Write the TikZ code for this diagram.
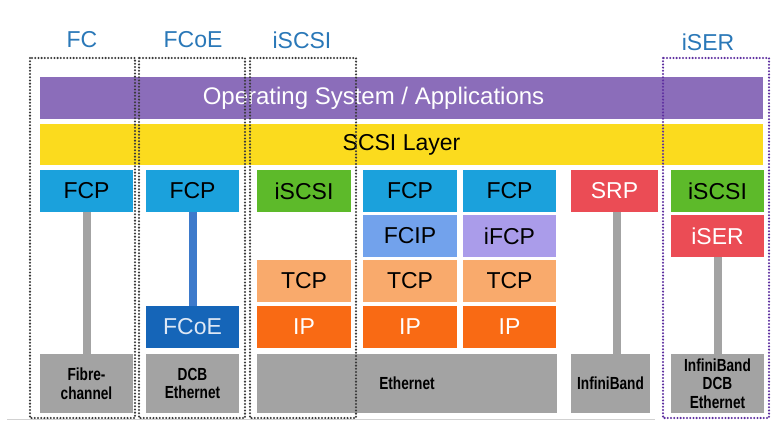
\documentclass[tikz,border=0pt]{standalone}
\usepackage{fontspec}
\setmainfont{Liberation Sans}
\newfontfamily\narrowfont[FakeStretch=0.78]{Liberation Sans}
\definecolor{osPurple}{HTML}{8B6DBA}
\definecolor{scsiYellow}{HTML}{FBDB1E}
\definecolor{fcpBlue}{HTML}{1BA1DC}
\definecolor{iscsiGreen}{HTML}{5DBA2A}
\definecolor{fcipBlue}{HTML}{72A2EC}
\definecolor{ifcpLav}{HTML}{AA9CEA}
\definecolor{tcpOrange}{HTML}{F9AA6C}
\definecolor{ipOrange}{HTML}{F96A14}
\definecolor{srpRed}{HTML}{EB4C55}
\definecolor{fcoeBlue}{HTML}{1565B8}
\definecolor{linkGray}{HTML}{A3A3A3}
\definecolor{linkBlue}{HTML}{3D7ACB}
\definecolor{labelBlue}{HTML}{2A78B8}
\definecolor{dotGray}{HTML}{3A3A3A}
\definecolor{dotPurple}{HTML}{5E2FA0}
\tikzset{
  blk/.style={rectangle, inner sep=0pt, minimum width=93pt, minimum height=42pt, font=\fontsize{23}{26}\selectfont},
  phys/.style={rectangle, inner sep=0pt, fill=linkGray, minimum height=59pt, align=center, font=\narrowfont\bfseries\fontsize{17.5}{18.5}\selectfont},
  bar/.style={rectangle, inner sep=0pt, minimum width=723pt, minimum height=42pt, font=\fontsize{23}{26}\selectfont},
  grp/.style={line width=2.3pt, dash pattern=on 0pt off 3.2pt, line cap=round},
  toplabel/.style={text=labelBlue, font=\fontsize{23}{26}\selectfont},
  vlink/.style={line width=8pt}
}
\begin{document}
\begin{tikzpicture}[x=1pt,y=-1pt]
\useasboundingbox (0,0) rectangle (772,431);
\fill[white] (0,0) rectangle (772,431);
% bars
\node[bar, fill=osPurple] (os) at (401.5,98) {};
\node[text=white, inner sep=0pt, font=\fontsize{24}{26}\selectfont] (oslabel) at (373.5,98) {Operating System / Applications};
\node[bar, fill=scsiYellow, minimum height=41pt] (scsi) at (401.5,144.5) {SCSI Layer};
% column 1
\node[blk, fill=fcpBlue] (fcp1) at (86.5,191) {FCP};
\node[phys, minimum width=93pt] (fibre) at (86.5,383.5) {Fibre-\\channel};
% column 2
\node[blk, fill=fcpBlue] (fcp2) at (192.5,191) {FCP};
\node[blk, fill=fcoeBlue, text={rgb,255:red,222;green,232;blue,245}] (fcoe) at (192.5,327) {FCoE};
\node[phys, minimum width=93pt] (dcb) at (192.5,383.5) {DCB\\Ethernet};
% column 3
\node[blk, fill=iscsiGreen, minimum width=94pt] (iscsi1) at (304,191) {iSCSI};
\node[blk, fill=tcpOrange, minimum width=94pt] (tcp1) at (304,281) {TCP};
\node[blk, fill=ipOrange, text=white, minimum width=94pt] (ip1) at (304,327) {IP};
% column 4
\node[blk, fill=fcpBlue, minimum width=94pt] (fcp3) at (410,191) {FCP};
\node[blk, fill=fcipBlue, minimum width=94pt] (fcip) at (410,236) {FCIP};
\node[blk, fill=tcpOrange, minimum width=94pt] (tcp2) at (410,281) {TCP};
\node[blk, fill=ipOrange, text=white, minimum width=94pt] (ip2) at (410,327) {IP};
% column 5
\node[blk, fill=fcpBlue] (fcp4) at (509.5,191) {FCP};
\node[blk, fill=ifcpLav] (ifcp) at (509.5,236) {iFCP};
\node[blk, fill=tcpOrange] (tcp3) at (509.5,281) {TCP};
\node[blk, fill=ipOrange, text=white] (ip3) at (509.5,327) {IP};
\node[phys, minimum width=300pt] (eth) at (407,383.5) {Ethernet};
% column 6
\node[blk, fill=srpRed, text=white, minimum width=87pt] (srp) at (614.5,191) {SRP};
\node[phys, minimum width=79pt] (ib) at (610.5,383.5) {InfiniBand};
% column 7
\node[blk, fill=iscsiGreen] (iscsi2) at (717.5,191) {iSCSI};
\node[blk, fill=srpRed, text=white] (iser) at (717.5,236) {iSER};
\node[phys, minimum width=93pt] (ibdcb) at (717.5,383.5) {InfiniBand\\DCB\\Ethernet};
% links
\draw[vlink, linkGray] (fcp1.south) -- (fibre.north);
\draw[vlink, linkBlue] (fcp2.south) -- (fcoe.north);
\draw[vlink, linkGray] ([xshift=2.5pt]srp.south) -- ([xshift=6.5pt]ib.north);
\draw[vlink, linkGray] (iser.south) -- (ibdcb.north);
% group boxes
\draw[grp, dotGray] (30,58) rectangle (135,418);
\draw[grp, dotGray] (139,58) rectangle (245,418);
\draw[grp, dotGray] (250,58) rectangle (356,418);
\draw[grp, dotPurple] (663,58) rectangle (769,418);
% group labels
\node[toplabel] (lfc) at (82,40) {FC};
\node[toplabel] (lfcoe) at (193,40) {FCoE};
\node[toplabel] (liscsi) at (302,40) {iSCSI};
\node[toplabel] (liser) at (708,42) {iSER};
% faint base line
\draw[line width=0.8pt, black!18] (7,419) -- (655,419);
\end{tikzpicture}
\end{document}
